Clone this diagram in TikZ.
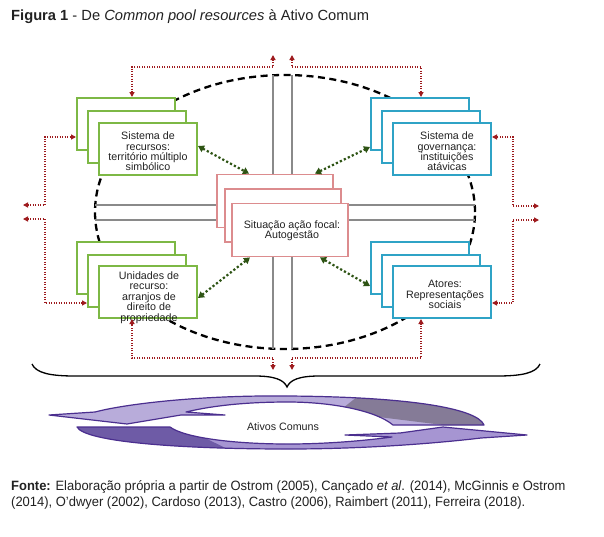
\documentclass[tikz,border=0pt]{standalone}
\usepackage{fontspec}
\setmainfont{Liberation Sans}
\newfontfamily\capfont{Liberation Sans}[FakeStretch=0.96]
\usetikzlibrary{arrows.meta,calc}
\definecolor{grn}{HTML}{7DB845}
\definecolor{blu}{HTML}{2FA3C6}
\definecolor{pnk}{HTML}{DC8C8E}
\definecolor{rdd}{HTML}{9E1B1E}
\definecolor{dgr}{HTML}{2E5414}
\definecolor{gryl}{HTML}{8A8A8A}
\definecolor{purO}{HTML}{4B2F8F}
\definecolor{purL}{HTML}{B8ACDA}
\definecolor{purG}{HTML}{857B97}
\definecolor{purD}{HTML}{6E5BA6}
\definecolor{purM}{HTML}{A695D2}
\definecolor{txt}{HTML}{222222}
\begin{document}
\begin{tikzpicture}[x=1pt,y=-1pt,
  gbox/.style={draw=grn,line width=2pt,fill=white,minimum width=98pt,minimum height=52pt,inner sep=0pt},
  bbox/.style={draw=blu,line width=2pt,fill=white,minimum width=98pt,minimum height=52pt,inner sep=0pt},
  pbox/.style={draw=pnk,line width=1.8pt,fill=white,minimum width=116pt,minimum height=53pt,inner sep=0pt},
  btxt/.style={font=\fontsize{10.7}{10.4}\selectfont,align=center,inner sep=0pt,text=txt},
  rarr/.style={draw=rdd,line width=1.4pt,dash pattern=on 1.3pt off 1.2pt,{Triangle[length=5pt,width=5pt]}-{Triangle[length=5pt,width=5pt]}},
  garr/.style={draw=dgr,line width=2.2pt,dash pattern=on 2.2pt off 2.2pt,{Triangle[length=6pt,width=7pt]}-{Triangle[length=6pt,width=7pt]}},
  gline/.style={draw=gryl,line width=1.3pt},
  ell/.style={draw=black,line width=2.3pt,dash pattern=on 7pt off 4.5pt},
  purline/.style={draw=purO,line width=1.2pt,line join=round}
  ]
\useasboundingbox (0,0) rectangle (604,536);
\fill[white] (0,0) rectangle (604,536);

% dashed ellipse and gray axes
\draw[ell] (285,212) ellipse [x radius=190pt, y radius=137pt];
\coordinate (vt1) at (273,75.3); \coordinate (vb1) at (273,348.7);
\coordinate (vt2) at (292,75.3); \coordinate (vb2) at (292,348.7);
\coordinate (hl1) at (95.3,205); \coordinate (hr1) at (474.7,205);
\coordinate (hl2) at (95.3,220); \coordinate (hr2) at (474.7,220);
\draw[gline] (vt1) -- (vb1);
\draw[gline] (vt2) -- (vb2);
\draw[gline] (hl1) -- (hr1);
\draw[gline] (hl2) -- (hr2);

% green stacks
\node[gbox] (gA3) at (126,124) {};
\node[gbox] (gA2) at (137,137) {};
\node[gbox] (gA1) at (148,149) {};
\node[gbox] (gC3) at (126,268) {};
\node[gbox] (gC2) at (137,281) {};
\node[gbox] (gC1) at (148,292) {};
% blue stacks
\node[bbox] (gB3) at (420,124) {};
\node[bbox] (gB2) at (431,137) {};
\node[bbox] (gB1) at (442,149) {};
\node[bbox] (gD3) at (420,268) {};
\node[bbox] (gD2) at (431,281) {};
\node[bbox] (gD1) at (442,292) {};
% pink stack
\node[pbox] (pA3) at (275,201) {};
\node[pbox] (pA2) at (283,215.5) {};
\node[pbox] (pA1) at (290,230) {};

% texts
\node[btxt] (tA) at (148,151.5) {Sistema de\\recursos:\\território múltiplo\\simbólico};
\node[btxt] (tB) at (447,151.5) {Sistema de\\governança:\\instituições\\atávicas};
\node[btxt] (tC) at (149,297.5) {Unidades de\\recurso:\\arranjos de\\direito de\\propriedade};
\node[btxt] (tD) at (445,294.5) {Atores:\\Representações\\sociais};
\node[btxt] (tP) at (292,230.5) {Situação ação focal:\\Autogestão};

% red dotted connectors
\coordinate (tU1) at (273,55); \coordinate (tU2) at (292,55);
\coordinate (dD1) at (273,370); \coordinate (dD2) at (292,370);
\coordinate (lL1) at (23,205); \coordinate (lL2) at (23,219);
\coordinate (rR1) at (539,206); \coordinate (rR2) at (539,220);
\draw[rarr] (tU1) -- ++(0,12) -| ([xshift=6pt]gA3.north);
\draw[rarr] (tU2) -- ++(0,12) -| ([xshift=1pt]gB3.north);
\draw[rarr] (dD1) -- ++(0,-12) -| ([xshift=-16pt]gC1.south);
\draw[rarr] (dD2) -- ++(0,-12) -| ([xshift=-21pt]gD1.south);
\draw[rarr] (lL1) -- ++(22,0) |- ([yshift=-13pt]gA3.west);
\draw[rarr] (lL2) -- ++(22,0) |- ([yshift=-22pt]gC2.west);
\draw[rarr] (rR1) -- ++(-26,0) |- ([yshift=12pt]gB1.east);
\draw[rarr] (rR2) -- ++(-26,0) |- ([yshift=-11pt]gD1.east);

% green dotted double arrows
\draw[garr] ([yshift=3pt]gA1.east) -- ([xshift=-26pt]pA3.north);
\draw[garr] ([xshift=40pt]pA3.north) -- ([yshift=-23pt]gB3.west);
\draw[garr] ([xshift=-40pt]pA1.south) -- ([yshift=-6pt]gC1.east);
\draw[garr] ([xshift=30pt]pA1.south) -- ([yshift=-18pt]gD3.west);

% brace
\draw[line width=1.3pt] (32,364) .. controls (36,373) and (50,376) .. (75,376) -- (255,376) .. controls (275,376) and (284,380) .. (287,387) .. controls (290,380) and (299,376) .. (319,376) -- (497,376) .. controls (522,376) and (536,373) .. (540,364);

% purple cycle arrows
\fill[purL] (484,425) .. controls (478,410) and (420,397) .. (288,396) .. controls (200,395) and (125,404) .. (95,412) -- (49,415) -- (127,424) -- (181,415) -- (225,415) -- (186,412) .. controls (215,405) and (250,402) .. (288,402) .. controls (330,402) and (375,410) .. (393,425) -- cycle;
\begin{scope}
\clip (372,385) -- (338,412) -- (500,432) -- (500,385) -- cycle;
\fill[purG] (484,425) .. controls (478,410) and (420,397) .. (288,396) .. controls (200,395) and (125,404) .. (95,412) -- (49,415) -- (127,424) -- (181,415) -- (225,415) -- (186,412) .. controls (215,405) and (250,402) .. (288,402) .. controls (330,402) and (375,410) .. (393,425) -- cycle;
\end{scope}
\draw[purline] (484,425) .. controls (478,410) and (420,397) .. (288,396) .. controls (200,395) and (125,404) .. (95,412) -- (49,415) -- (127,424) -- (181,415) -- (225,415) -- (186,412) .. controls (215,405) and (250,402) .. (288,402) .. controls (330,402) and (375,410) .. (393,425) -- cycle;

\fill[purM] (77,427) -- (170,427) .. controls (185,438) and (235,444) .. (288,444) .. controls (330,444) and (370,440) .. (392,437) -- (345,435) -- (400,433) -- (443,427) -- (527,435) -- (481,438) .. controls (430,444) and (360,449) .. (288,449) .. controls (180,449) and (85,442) .. (77,427) -- cycle;
\begin{scope}
\clip (60,420) -- (172,422) -- (240,455) -- (60,455) -- cycle;
\fill[purD] (77,427) -- (170,427) .. controls (185,438) and (235,444) .. (288,444) .. controls (330,444) and (370,440) .. (392,437) -- (345,435) -- (400,433) -- (443,427) -- (527,435) -- (481,438) .. controls (430,444) and (360,449) .. (288,449) .. controls (180,449) and (85,442) .. (77,427) -- cycle;
\end{scope}
\draw[purline] (77,427) -- (170,427) .. controls (185,438) and (235,444) .. (288,444) .. controls (330,444) and (370,440) .. (392,437) -- (345,435) -- (400,433) -- (443,427) -- (527,435) -- (481,438) .. controls (430,444) and (360,449) .. (288,449) .. controls (180,449) and (85,442) .. (77,427) -- cycle;
\node[btxt] (ac) at (283,427) {Ativos Comuns};

% title and caption
\node[anchor=base west,inner sep=0pt,text=txt,font=\fontsize{14.7}{17}\selectfont] (title) at (11,20) {\textbf{Figura 1} - De \textit{Common pool resources} à Ativo Comum};
\node[anchor=base west,inner sep=0pt,text=txt,font=\capfont\fontsize{13.5}{16}\selectfont] (cap1) at (11,490) {\textbf{Fonte:} Elaboração própria a partir de Ostrom (2005), Cançado \textit{et al}. (2014), McGinnis e Ostrom};
\node[anchor=base west,inner sep=0pt,text=txt,font=\capfont\fontsize{13.5}{16}\selectfont] (cap2) at (11,506) {(2014), O’dwyer (2002), Cardoso (2013), Castro (2006), Raimbert (2011), Ferreira (2018).};
\end{tikzpicture}
\end{document}
